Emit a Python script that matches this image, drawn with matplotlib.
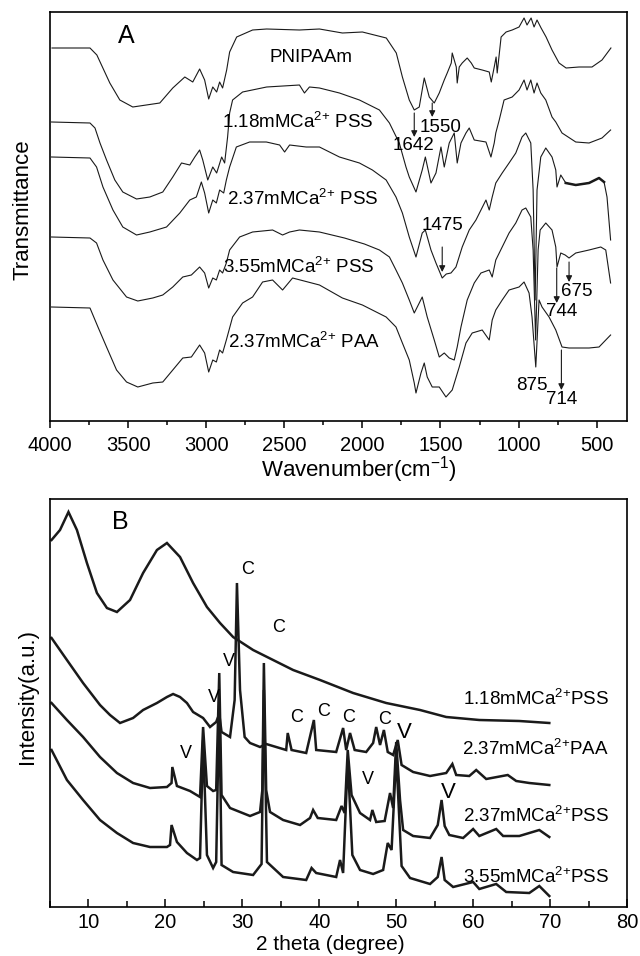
import matplotlib
matplotlib.use("Agg")
import matplotlib.pyplot as plt
from matplotlib.ticker import MultipleLocator

plt.rcParams['font.family'] = ['Liberation Sans', 'DejaVu Sans']
plt.rcParams['mathtext.fontset'] = 'custom'
plt.rcParams['mathtext.rm'] = 'Liberation Sans'
plt.rcParams['mathtext.it'] = 'Liberation Sans:italic'

# ---------------- panel A : FTIR, stacked (a.u.) ----------------
wn_pnipaam = [3987, 3744, 3700, 3617, 3553, 3470, 3297, 3214, 3137, 3086, 3042, 3010, 2984, 2958,
              2933, 2914, 2895, 2869, 2850, 2805, 2703, 2613, 2403, 2275, 2128, 2000, 1847, 1783,
              1744, 1700, 1668, 1636, 1604, 1572, 1540, 1508, 1476, 1457, 1431, 1425, 1399, 1393,
              1380, 1361, 1329, 1303, 1284, 1233, 1188, 1175, 1156, 1144, 1137, 1112, 1080, 1041,
              997, 965, 946, 920, 901, 882, 856, 824, 786, 741, 696, 613, 530, 466, 409]
t_pnipaam = [373, 373, 366, 338, 321, 314, 318, 333, 344, 339, 352, 341, 322, 334,
             329, 339, 333, 351, 369, 384, 391, 392, 391, 392, 388, 389, 383, 368,
             344, 321, 311, 314, 343, 324, 318, 328, 341, 348, 358, 368, 354, 338,
             354, 358, 363, 358, 353, 351, 349, 339, 354, 364, 348, 384, 389, 391,
             394, 403, 396, 403, 394, 401, 393, 384, 371, 358, 353, 354, 354, 361, 373]

wn_pss118 = [3990, 3744, 3712, 3680, 3638, 3585, 3534, 3446, 3361, 3278, 3214, 3158, 3105, 3073,
             3042, 3022, 2990, 2958, 2933, 2901, 2882, 2863, 2850, 2831, 2767, 2613, 2403, 2371,
             2339, 2275, 2147, 2019, 1891, 1827, 1764, 1721, 1700, 1657, 1617, 1597, 1561, 1529,
             1497, 1476, 1444, 1412, 1393, 1369, 1337, 1316, 1284, 1209, 1177, 1156, 1146, 1124,
             1093, 1041, 997, 965, 946, 922, 901, 882, 858, 826, 786, 762, 722, 634, 549, 466, 411]
t_pss118 = [299, 298, 293, 278, 261, 241, 229, 222, 224, 229, 244, 258, 256, 264,
            271, 261, 241, 254, 248, 264, 258, 284, 308, 321, 329, 334, 336, 328,
            334, 333, 328, 321, 311, 298, 278, 254, 244, 229, 251, 264, 238, 248,
            274, 254, 278, 288, 258, 278, 288, 293, 281, 279, 264, 278, 288, 301,
            321, 324, 331, 341, 331, 341, 328, 338, 328, 321, 304, 299, 288, 279, 278, 283, 291]

wn_pss237 = [3990, 3744, 3702, 3661, 3597, 3534, 3446, 3361, 3254, 3169, 3105, 3063, 3031, 3010,
             2984, 2958, 2935, 2914, 2888, 2871, 2850, 2807, 2722, 2615, 2530, 2498, 2466, 2360,
             2275, 2147, 2019, 1936, 1848, 1785, 1744, 1700, 1657, 1617, 1597, 1561, 1529, 1489,
             1463, 1433, 1401, 1361, 1316, 1273, 1209, 1188, 1169, 1146, 1105, 1061, 1018, 978,
             954, 922, 907, 894, 882, 858, 826, 786, 762, 754, 730, 698, 634, 549, 485, 453, 434, 411]
t_pss237 = [264, 263, 254, 234, 211, 194, 186, 189, 194, 208, 221, 224, 239, 228,
            208, 221, 218, 231, 228, 241, 254, 274, 279, 279, 276, 269, 276, 274,
            274, 264, 258, 251, 241, 224, 208, 184, 164, 188, 191, 171, 158, 143,
            147, 148, 154, 174, 191, 201, 221, 211, 224, 238, 248, 258, 268, 284,
            288, 278, 231, 121, 231, 264, 273, 264, 251, 234, 246, 238, 236, 238, 243, 239, 224, 181]

wn_pss355 = [3990, 3744, 3702, 3661, 3597, 3510, 3438, 3342, 3278, 3214, 3150, 3095, 3042, 3010,
             2984, 2958, 2935, 2914, 2895, 2871, 2850, 2786, 2703, 2575, 2511, 2466, 2403, 2275,
             2115, 1987, 1891, 1827, 1785, 1744, 1700, 1668, 1636, 1617, 1585, 1540, 1508, 1476,
             1444, 1412, 1393, 1369, 1329, 1284, 1241, 1188, 1169, 1146, 1105, 1061, 1018, 978,
             954, 922, 907, 891, 875, 862, 826, 786, 762, 754, 730, 702, 677, 634, 549, 474, 442, 411]
t_pss355 = [184, 183, 178, 161, 141, 124, 120, 123, 126, 134, 144, 146, 154, 148,
            133, 143, 141, 151, 148, 158, 171, 184, 189, 191, 186, 189, 191, 189,
            183, 177, 171, 164, 151, 138, 121, 108, 118, 124, 104, 81, 64, 68,
            63, 61, 74, 94, 121, 138, 148, 151, 144, 161, 174, 188, 198, 211,
            213, 204, 171, 81, 171, 191, 198, 191, 174, 154, 168, 166, 163, 168, 171, 174, 171, 138]

wn_paa237 = [3990, 3744, 3693, 3638, 3574, 3510, 3438, 3342, 3278, 3214, 3150, 3095, 3042, 3010,
             2984, 2958, 2935, 2914, 2895, 2871, 2831, 2767, 2703, 2639, 2575, 2511, 2447, 2275,
             2128, 2000, 1848, 1785, 1744, 1700, 1668, 1657, 1625, 1604, 1585, 1553, 1508, 1465,
             1425, 1380, 1337, 1297, 1233, 1188, 1169, 1146, 1105, 1061, 997, 965, 933, 914,
             890, 869, 850, 805, 762, 722, 677, 549, 485, 411]
t_paa237 = [114, 113, 94, 74, 51, 39, 34, 38, 39, 51, 63, 64, 76, 68,
            49, 61, 59, 71, 68, 81, 104, 118, 124, 139, 141, 131, 143, 136,
            123, 116, 104, 94, 78, 61, 38, 28, 48, 58, 44, 34, 34, 24,
            31, 54, 78, 88, 91, 81, 101, 111, 121, 131, 134, 139, 128, 104,
            54, 121, 114, 104, 91, 74, 73, 73, 74, 86]

# ---------------- panel B : XRD, stacked (a.u.) ----------------
tt_pss118 = [5.2, 6.3, 7.4, 8.5, 9.8, 11.1, 12.4, 13.7, 15.4, 17.1, 18.9, 20.2, 21.9, 23.6,
             25.4, 27.1, 28.8, 31.4, 34.0, 36.6, 40.1, 44.4, 48.7, 53.1, 56.5, 60.8, 66.0, 69.9]
i_pss118 = [367, 377, 395, 377, 344, 314, 299, 295, 307, 334, 357, 364, 350, 324,
            300, 284, 270, 257, 247, 237, 227, 214, 204, 197, 190, 187, 186, 184]

tt_paa237 = [5.2, 7.2, 9.3, 11.5, 12.8, 14.1, 15.8, 17.1, 18.9, 20.2, 21.0, 21.9, 22.8, 23.6,
             24.9, 25.8, 26.6, 27.0, 27.3, 28.4, 29.0, 29.3, 29.7, 30.3, 31.0, 32.3, 33.1, 34.4,
             35.7, 35.9, 36.4, 38.3, 39.3, 39.6, 42.2, 43.1, 43.5, 44.0, 44.6, 46.1, 47.0, 47.4,
             47.9, 48.4, 48.9, 49.6, 50.2, 50.7, 52.2, 54.4, 56.5, 57.3, 57.8, 59.5, 60.4, 61.7,
             64.5, 65.6, 67.3, 69.9]
i_paa237 = [269, 247, 224, 202, 192, 184, 189, 197, 204, 210, 213, 210, 204, 195,
            189, 180, 185, 193, 175, 170, 207, 324, 217, 170, 164, 160, 163, 160,
            157, 174, 157, 154, 187, 157, 155, 179, 157, 174, 157, 155, 164, 180,
            162, 177, 155, 152, 167, 142, 135, 131, 134, 143, 132, 131, 137, 128,
            132, 126, 124, 122]

tt_pss237 = [5.2, 7.2, 9.3, 11.5, 13.7, 15.8, 18.0, 20.2, 20.8, 20.9, 21.5, 23.2, 24.5, 24.9,
             25.4, 26.2, 26.6, 27.0, 27.3, 28.4, 31.0, 32.3, 32.6, 32.8, 33.1, 33.6, 35.3, 37.5,
             38.8, 39.2, 39.8, 42.2, 42.9, 43.3, 43.7, 44.2, 45.3, 46.6, 46.9, 47.4, 48.5, 49.2,
             49.6, 50.0, 50.5, 50.9, 52.2, 54.4, 55.4, 55.9, 56.3, 56.9, 58.7, 60.0, 60.8, 63.0,
             63.9, 66.0, 68.6, 69.9]
i_pss237 = [204, 187, 170, 150, 134, 124, 119, 120, 124, 140, 121, 116, 110, 180,
            121, 116, 117, 234, 112, 99, 91, 95, 117, 244, 117, 95, 87, 82,
            89, 97, 89, 87, 101, 94, 157, 112, 94, 87, 97, 85, 86, 114,
            99, 165, 107, 77, 71, 69, 82, 107, 81, 72, 69, 78, 71, 78,
            71, 71, 77, 70]

tt_pss355 = [5.2, 7.2, 9.3, 11.5, 13.7, 15.8, 18.0, 20.2, 20.6, 20.8, 21.5, 22.8, 24.1, 24.5,
             24.9, 25.4, 26.2, 26.6, 27.0, 27.3, 28.8, 31.4, 32.5, 32.8, 33.2, 35.3, 38.3, 39.0,
             39.6, 42.2, 42.7, 43.1, 43.7, 44.3, 45.3, 47.0, 48.3, 48.9, 49.4, 50.0, 50.7, 51.8,
             54.4, 55.4, 55.9, 56.3, 57.4, 60.0, 60.8, 63.0, 64.3, 67.3, 68.6, 69.9]
i_pss355 = [157, 127, 107, 87, 74, 64, 60, 60, 62, 82, 65, 54, 47, 49,
            167, 52, 39, 45, 207, 42, 35, 32, 43, 217, 45, 30, 27, 39,
            34, 30, 47, 34, 147, 52, 37, 33, 37, 64, 57, 152, 41, 29,
            23, 30, 50, 27, 20, 25, 18, 23, 15, 14, 21, 11]

ink = '#1a1a1a'
fig = plt.figure(figsize=(6.4, 9.56), dpi=100)

# ---------------- panel A ----------------
axA = fig.add_axes([50 / 640, 1 - 421 / 956, 577 / 640, 409 / 956])
for wn, t in [(wn_pnipaam, t_pnipaam), (wn_pss118, t_pss118), (wn_pss237, t_pss237),
              (wn_pss355, t_pss355), (wn_paa237, t_paa237)]:
    axA.plot(wn, t, color=ink, lw=0.8)
# noisy tail of the 2.37 PSS spectrum looks heavier
tail = [(w, t) for w, t in zip(wn_pss237, t_pss237) if 440 < w < 730]
axA.plot([p[0] for p in tail], [p[1] for p in tail], color=ink, lw=1.8)

axA.set_xlim(4000, 306)
axA.set_ylim(0, 409)
axA.set_yticks([])
axA.xaxis.set_major_locator(MultipleLocator(500))
axA.xaxis.set_minor_locator(MultipleLocator(250))
axA.tick_params(axis='x', which='major', direction='out', length=5, width=1.1, labelsize=14.5, pad=6)
axA.tick_params(axis='x', which='minor', direction='out', length=3, width=1.1)
for s in axA.spines.values():
    s.set_linewidth(1.2)

sup = '$^{2{+}}$'
axA.text(3514, 385, 'A', fontsize=18, ha='center', va='center')
axA.text(2327, 359, 'PNIPAAm', fontsize=13.5, ha='center', va='baseline')
axA.text(2901, 293, '1.18mMCa' + sup + ' PSS', fontsize=13.5, ha='left', va='baseline')
axA.text(2869, 216, '2.37mMCa' + sup + ' PSS', fontsize=13.5, ha='left', va='baseline')
axA.text(2895, 148, '3.55mMCa' + sup + ' PSS', fontsize=13.5, ha='left', va='baseline')
axA.text(2863, 73, '2.37mMCa' + sup + ' PAA', fontsize=13.5, ha='left', va='baseline')

arrow = dict(arrowstyle='-|>', lw=0.8, color=ink, mutation_scale=9, shrinkA=0, shrinkB=0)
for lab, x, y0, y1, tx, ty in [('1642', 1668, 308, 284, 1674, 275),
                               ('1550', 1553, 318, 304, 1502, 293),
                               ('1475', 1489, 174, 149, 1489, 196),
                               ('744', 756, 153, 118, 722, 110),
                               ('675', 677, 159, 139, 626, 129),
                               ('714', 726, 71, 31, 722, 21)]:
    axA.annotate('', xy=(x, y1), xytext=(x, y0), arrowprops=arrow)
    axA.text(tx, ty, lab, fontsize=13.5, ha='center', va='center')
axA.text(914, 35, '875', fontsize=13.5, ha='center', va='center')

fig.text(359 / 640, 1 - 470 / 956, 'Wavenumber(cm$^{-1}$)', fontsize=16, ha='center', va='center')
fig.text(23 / 640, 1 - 210 / 956, 'Transmittance', fontsize=16, ha='center', va='center', rotation=90)

# ---------------- panel B ----------------
axB = fig.add_axes([50 / 640, 1 - 907 / 956, 577 / 640, 408 / 956])
for tt, inten in [(tt_pss118, i_pss118), (tt_paa237, i_paa237), (tt_pss237, i_pss237),
                  (tt_pss355, i_pss355)]:
    axB.plot(tt, inten, color=ink, lw=1.8, solid_joinstyle='miter')

axB.set_xlim(5, 80)
axB.set_ylim(0, 408)
axB.set_yticks([])
axB.xaxis.set_major_locator(MultipleLocator(10))
axB.xaxis.set_minor_locator(MultipleLocator(5))
axB.tick_params(axis='x', which='major', direction='in', length=6, width=1.1, labelsize=14.5, pad=4)
axB.tick_params(axis='x', which='minor', direction='in', length=4, width=1.1)
for s in axB.spines.values():
    s.set_linewidth(1.2)

axB.text(14.1, 385, 'B', fontsize=18, ha='center', va='center')
for lab, x, y in [('1.18mMCa' + sup + 'PSS', 77.7, 202), ('2.37mMCa' + sup + 'PAA', 77.7, 152),
                  ('2.37mMCa' + sup + 'PSS', 77.7, 85), ('3.55mMCa' + sup + 'PSS', 77.7, 24)]:
    axB.text(x, y, lab, fontsize=13.5, ha='right', va='baseline')

for lab, x, y, fs in [('C', 30.7, 337, 13), ('C', 34.7, 280, 13), ('V', 28.2, 246, 13),
                      ('V', 26.3, 210, 13), ('V', 22.7, 154, 13), ('C', 37.1, 190, 13),
                      ('C', 40.5, 196, 13), ('C', 43.8, 190, 13), ('C', 48.5, 187, 13),
                      ('V', 51.1, 175, 16), ('V', 46.3, 128, 13), ('V', 56.8, 115, 16)]:
    axB.text(x, y, lab, fontsize=fs, ha='center', va='center')

fig.text(330 / 640, 1 - 945 / 956, '2 theta (degree)', fontsize=15, ha='center', va='center')
fig.text(28 / 640, 1 - 697 / 956, 'Intensity(a.u.)', fontsize=16, ha='center', va='center', rotation=90)

fig.savefig('out.png', dpi=100)
